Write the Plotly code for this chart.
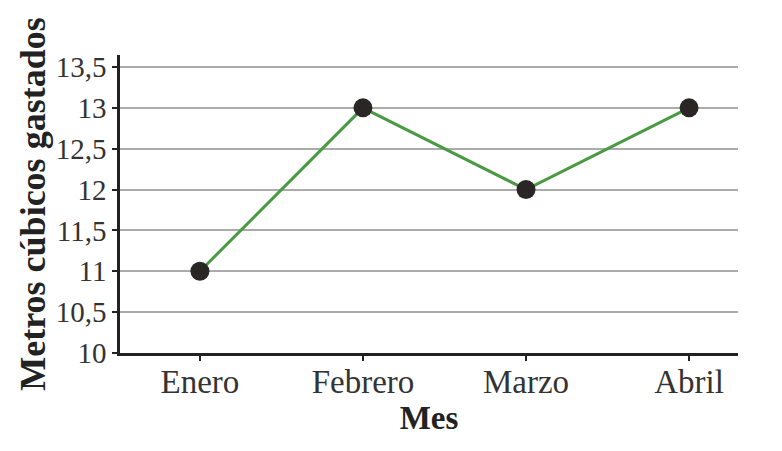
import plotly.graph_objects as go

meses = ["Enero", "Febrero", "Marzo", "Abril"]
metros = [11, 13, 12, 13]
y_ticks = [10, 10.5, 11, 11.5, 12, 12.5, 13, 13.5]
y_tick_labels = ["10", "10,5", "11", "11,5", "12", "12,5", "13", "13,5"]

serif = "Liberation Serif"

fig = go.Figure()
fig.add_trace(go.Scatter(
    x=meses, y=metros, mode="lines+markers",
    line=dict(color="#4a9a44", width=3),
    marker=dict(color="#2a2626", size=19),
    showlegend=False,
))

fig.update_layout(
    width=782, height=451,
    margin=dict(l=112, r=52, t=47, b=106, autoexpand=False),
    paper_bgcolor="white", plot_bgcolor="white",
    font=dict(family=serif, color="#2b2b2b"),
)
fig.update_xaxes(
    type="category", range=[-0.49, 3.3], automargin=False,
    showline=True, linecolor="#222", linewidth=2.5,
    ticks="outside", ticklen=5, tickcolor="#222", tickwidth=2,
    ticklabelstandoff=-7,
    tickfont=dict(size=33, family=serif, color="#333"),
    showgrid=False,
    title=dict(text="<b>Mes</b>", font=dict(size=33, family=serif, color="#222"), standoff=0),
)
fig.update_yaxes(
    range=[10, 13.647], automargin=False,
    tickvals=y_ticks, ticktext=y_tick_labels,
    showline=True, linecolor="#222", linewidth=2.5,
    ticks="outside", ticklen=5, tickcolor="#222", tickwidth=2,
    tickfont=dict(size=29, family=serif, color="#333"),
    showgrid=True, gridcolor="#ababab", gridwidth=1.5,
    zeroline=False,
    title=dict(text="<b>Metros cúbicos gastados</b>", font=dict(size=36, family=serif, color="#222"), standoff=0),
)

fig.write_html("out.html")
